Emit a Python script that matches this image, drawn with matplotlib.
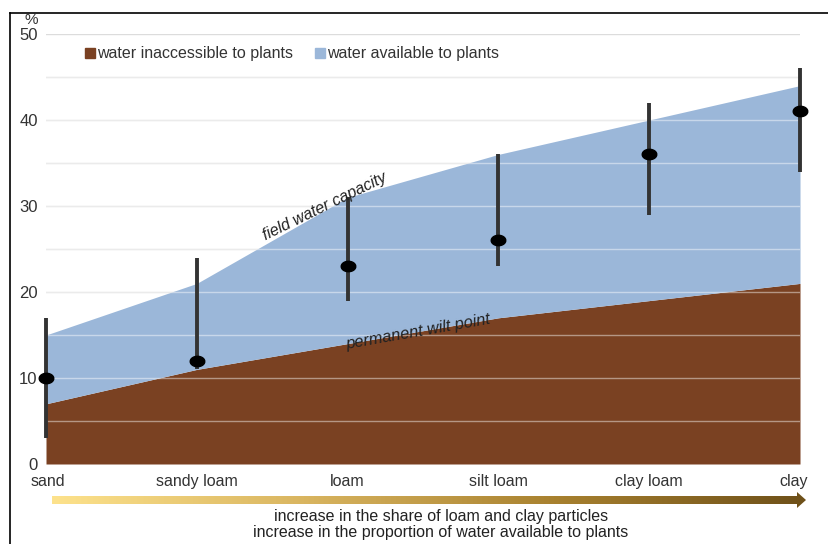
import matplotlib.pyplot as plt
import numpy as np
from matplotlib.lines import Line2D
from matplotlib.patches import Polygon
from matplotlib.path import Path
from matplotlib.colors import LinearSegmentedColormap

soils = ['sand', 'sandy loam', 'loam', 'silt loam', 'clay loam', 'clay']
wilt_point = [7, 11, 14, 17, 19, 21]
field_capacity = [15, 21, 31, 36, 40, 44]
typical = [10, 12, 23, 26, 36, 41]
range_low = [3, 11, 19, 23, 29, 34]
range_high = [17, 24, 31, 36, 42, 46]

BROWN = '#7a4122'
BLUE = '#9bb7d9'


def main():
    plt.rcParams['font.family'] = ['Liberation Sans', 'DejaVu Sans']
    fig = plt.figure(figsize=(8.29, 5.44), dpi=100)
    ax = fig.add_axes([46 / 829, 80 / 544, 754 / 829, 430 / 544])

    x = np.arange(len(soils))
    ax.set_xlim(0, len(soils) - 1)
    ax.set_ylim(0, 50)

    # light grid under everything
    for y in range(5, 51, 5):
        ax.axhline(y, color='#dcdcdc', lw=1, zorder=0)

    ax.fill_between(x, 0, wilt_point, color=BROWN, lw=0, zorder=1)
    ax.fill_between(x, wilt_point, field_capacity, color=BLUE, lw=0, zorder=1)

    # grid seen through the fills
    for y in range(5, 50, 5):
        ax.axhline(y, color='white', alpha=0.45, lw=1, zorder=2)

    # error bars and dots
    t = np.linspace(0, 2 * np.pi, 40)
    ellipse = Path(np.column_stack([np.cos(t) * 1.4, np.sin(t)]))
    ax.vlines(x, range_low, range_high, color='#333333', lw=2.8, zorder=3,
              clip_on=False)
    ax.plot(x, typical, ls='none', marker=ellipse, ms=10.5, color='black',
            zorder=4, clip_on=False)

    ax.text(1.85, 29.9, 'field water capacity', rotation=26, fontsize=11.5,
            style='italic', color='#222222', ha='center', va='center')
    ax.text(2.47, 15.4, 'permanent wilt point', rotation=10, fontsize=11.8,
            style='italic', color='#222222', ha='center', va='center')

    for s in ax.spines.values():
        s.set_visible(False)
    ax.set_yticks(range(0, 51, 10))
    ax.tick_params(axis='y', length=0, labelsize=12, pad=6,
                   labelcolor='#333333')
    ax.set_xticks(x)
    ax.set_xticklabels([])
    ax.tick_params(axis='x', length=0)
    ax.text(-0.053, 51.6, '%', fontsize=11, ha='right', va='center',
            color='#333333')
    for i, s in enumerate(soils):
        ha = 'center'
        xi = i
        if i == 0:
            xi = -0.1
            ha = 'left'
        if i == len(soils) - 1:
            xi = i + 0.05
            ha = 'right'
        ax.text(xi, -2, s, ha=ha, va='center', fontsize=11.5,
                color='#333333')

    # legend
    ax.plot([], [], ls='none', marker='s', ms=6.5, color=BROWN,
            label='water inaccessible to plants')
    ax.plot([], [], ls='none', marker='s', ms=6.5, color=BLUE,
            label='water available to plants')
    ax.legend(loc='upper left', bbox_to_anchor=(0.03, 1.005), ncol=2,
              frameon=False, fontsize=11.5, handletextpad=0.0,
              columnspacing=1.2, handlelength=0.9, labelcolor='#333333')

    # gradient arrow
    arr_ax = fig.add_axes([0, 0, 1, 1], zorder=-1)
    arr_ax.set_xlim(0, 829)
    arr_ax.set_ylim(544, 0)
    arr_ax.axis('off')
    cmap = LinearSegmentedColormap.from_list(
        'arrow', ['#fde28c', '#d9b560', '#a8812f', '#6e5019'])
    grad = np.linspace(0, 1, 256).reshape(1, -1)
    im = arr_ax.imshow(grad, cmap=cmap, extent=[52, 806, 508, 492],
                       aspect='auto')
    arrow = Polygon([[52, 496], [797, 496], [797, 492], [806, 500],
                     [797, 508], [797, 504], [52, 504]], closed=True,
                    transform=arr_ax.transData, facecolor='none',
                    edgecolor='none')
    arr_ax.add_patch(arrow)
    im.set_clip_path(arrow)
    arr_ax.text(441, 516, 'increase in the share of loam and clay particles',
                ha='center', va='center', fontsize=11.5, color='#222222')
    arr_ax.text(441, 532, 'increase in the proportion of water available to plants',
                ha='center', va='center', fontsize=11.5, color='#222222')

    # frame
    fig.add_artist(Line2D([10 / 829, 10 / 829], [0, 1 - 13 / 544],
                          color='black', lw=1.2))
    fig.add_artist(Line2D([10 / 829, 1], [1 - 13 / 544, 1 - 13 / 544],
                          color='black', lw=1.2))

    fig.savefig('out.png', dpi=100, facecolor='white')


if __name__ == '__main__':
    main()
